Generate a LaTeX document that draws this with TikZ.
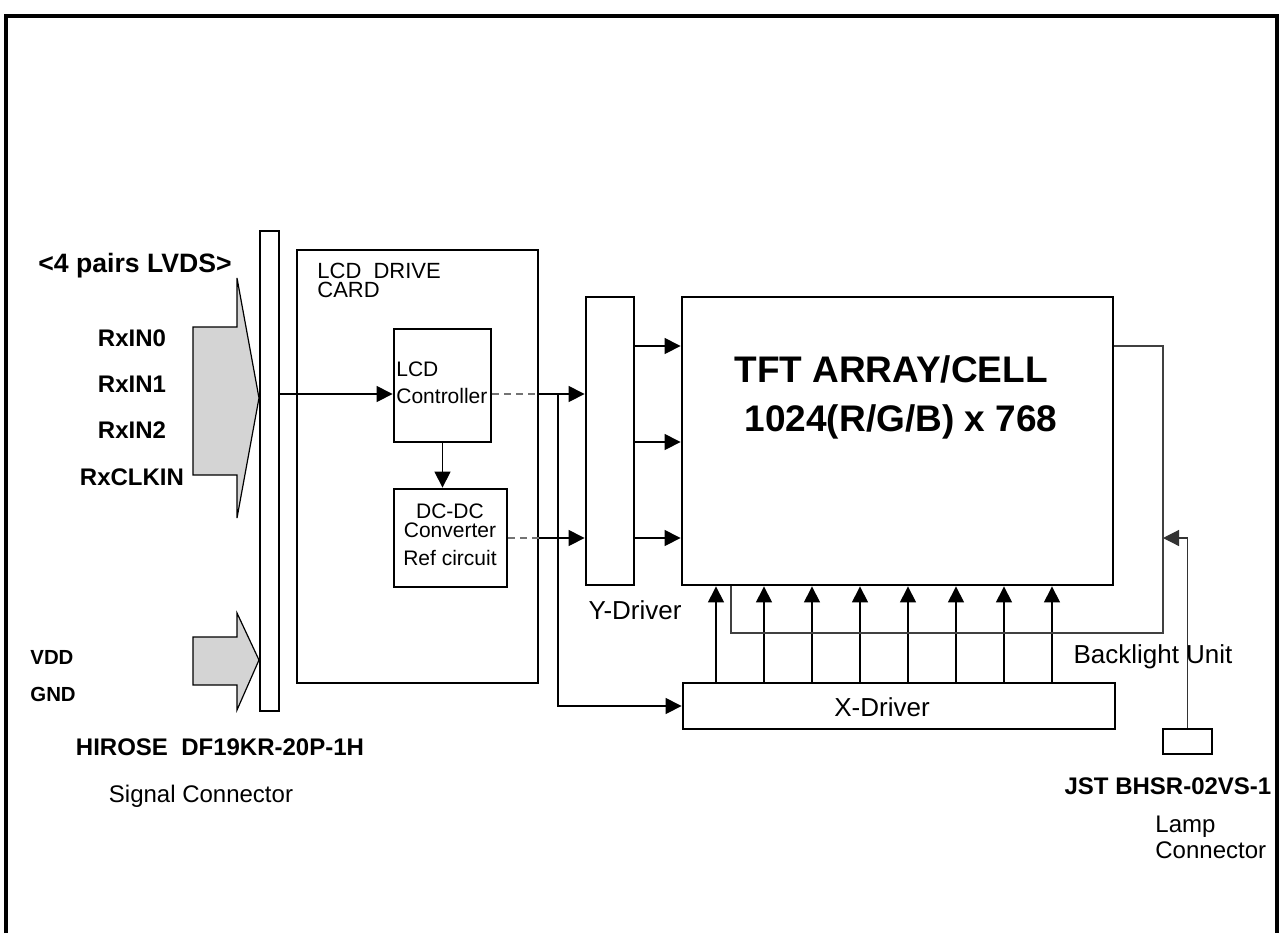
\documentclass[tikz,border=0pt]{standalone}
\usepackage{fontspec}
\setmainfont{Liberation Sans}
\usetikzlibrary{arrows.meta, fit}
\definecolor{arrowgray}{gray}{0.83}
\tikzset{
	blockbox/.style={draw, line width=1.4pt, inner sep=0pt},
	thinbox/.style={draw, line width=0.6pt, inner sep=0pt},
	wire/.style={line width=0.6pt},
	sig/.style={wire, -{Triangle[length=8pt, width=8pt]}},
	dashwire/.style={wire, black!55, dash pattern=on 3.5pt off 2.5pt},
	bkwire/.style={wire, black!75},
	bigarrow/.style={draw, line width=0.6pt, fill=arrowgray},
	lbl/.style={inner sep=0pt, font=\fontsize{12}{14}\selectfont},
	boldlbl/.style={inner sep=0pt, font=\bfseries\fontsize{12}{14}\selectfont}
}
\begin{document}
\begin{tikzpicture}[x=0.5pt, y=-0.5pt]
	\useasboundingbox (0,0) rectangle (1281,933);
	% Frame:
	\draw[line width=2pt] (6,933) -- (6,16) -- (1277,16) -- (1277,933);
	% Blocks:
	\node[thinbox, fit={(260,231) (279,711)}] (sigconn) {};
	\node[blockbox, fit={(297,250) (538,683)}] (card) {};
	\node[blockbox, fit={(394,329) (491,442)}] (ctrl) {};
	\node[blockbox, fit={(394,489) (507,587)}] (dcdc) {};
	\node[blockbox, fit={(586,297) (634,585)}] (ydrv) {};
	\node[blockbox, fit={(682,297) (1113,585)}] (tft) {};
	\node[blockbox, fit={(683,683) (1115,729)}] (xdrv) {};
	\node[thinbox, fit={(1163,729) (1212,754)}] (lampconn) {};
	% Input arrows into the signal connector:
	\draw[bigarrow] (193,327) -- (237,327) -- (237,278) -- (259,398) -- (237,518) -- (237,475) -- (193,475) -- cycle;
	\draw[bigarrow] (193,637) -- (237,637) -- (237,613) -- (259,660) -- (237,710) -- (237,685) -- (193,685) -- cycle;
	% Labels, left side:
	\node[boldlbl, font=\bfseries\fontsize{13.3}{16}\selectfont, anchor=base] (lvds) at (135,272) {<4 pairs LVDS>};
	\foreach \name/\yy in {RxIN0/338, RxIN1/384, RxIN2/430, RxCLKIN/477}
		\node[boldlbl] (\name) at (132,\yy) {\name};
	\node[boldlbl, font=\bfseries\fontsize{10.2}{12}\selectfont, anchor=west] (vdd) at (30,657) {VDD};
	\node[boldlbl, font=\bfseries\fontsize{10.2}{12}\selectfont, anchor=west] (gnd) at (30,694) {GND};
	\node[boldlbl] (hirose) at (220,747) {HIROSE\ \ DF19KR-20P-1H};
	\node[lbl, anchor=base] (signame) at (201,802) {Signal Connector};
	% Labels in the blocks:
	\node[lbl, font=\fontsize{11}{9.5}\selectfont, align=left, anchor=north west] (cardlbl) at (317,263) {LCD\ \ DRIVE\\CARD};
	\node[lbl, font=\fontsize{10.5}{13.5}\selectfont, align=left, anchor=north west] (ctrllbl) at (396,361) {LCD\\Controller};
	\node[lbl, font=\fontsize{10.5}{9.5}\selectfont, align=center, anchor=north] (dcdclbl) at (450,503) {DC-DC\\Converter\\[4.5pt]Ref circuit};
	\node[boldlbl, font=\bfseries\fontsize{18.5}{24.5}\selectfont, align=center, anchor=north] (tftlbl) at (896,355) {TFT ARRAY/CELL\hspace*{5pt}\\\hspace*{5pt}1024(R/G/B) x 768};
	\node[lbl, font=\fontsize{13}{15}\selectfont] (ylbl) at (635,610) {Y-Driver};
	\node[lbl, font=\fontsize{13}{15}\selectfont] (xlbl) at (882,707) {X-Driver};
	\node[lbl, font=\fontsize{13}{15}\selectfont, anchor=base] (bllbl) at (1153,663) {Backlight Unit};
	\node[boldlbl, anchor=base] (jst) at (1168,794) {JST BHSR-02VS-1};
	\node[lbl, font=\fontsize{12}{13}\selectfont, align=left, anchor=north west] (lampname) at (1155,816) {Lamp\\Connector};
	% Wires:
	\coordinate (rowctl) at (0,394);
	\coordinate (rowdc) at (0,538);
	\coordinate (split) at (558,394);
	\draw[sig] (sigconn.east |- rowctl) -- (ctrl.west |- rowctl);
	\draw[dashwire] (ctrl.east |- rowctl) -- (card.east |- rowctl);
	\draw[sig] (card.east |- rowctl) -- (ydrv.west |- rowctl);
	\draw[sig] (split) |- (xdrv.west);
	\draw[sig] (ctrl.south) -- (ctrl.south |- dcdc.north);
	\draw[dashwire] (dcdc.east |- rowdc) -- (card.east |- rowdc);
	\draw[sig] (card.east |- rowdc) -- (ydrv.west |- rowdc);
	\foreach \yy in {346,442,538}
		\draw[sig] (ydrv.east |- 0,\yy) -- (tft.west |- 0,\yy);
	\foreach \xx in {716,764,...,1052}
		\draw[sig] (xdrv.north -| \xx,0) -- (tft.south -| \xx,0);
	% Backlight unit and lamp connector:
	\coordinate (bltop) at (1163,346);
	\coordinate (blin) at (1163,538);
	\coordinate (blbot) at (1163,633);
	\coordinate (blleft) at (731,633);
	\draw[bkwire] (tft.east |- bltop) -- (bltop) -- (blbot) -- (blleft) -- (blleft |- tft.south);
	\draw[sig, black!80] (lampconn.north) |- (blin);
\end{tikzpicture}
\end{document}
